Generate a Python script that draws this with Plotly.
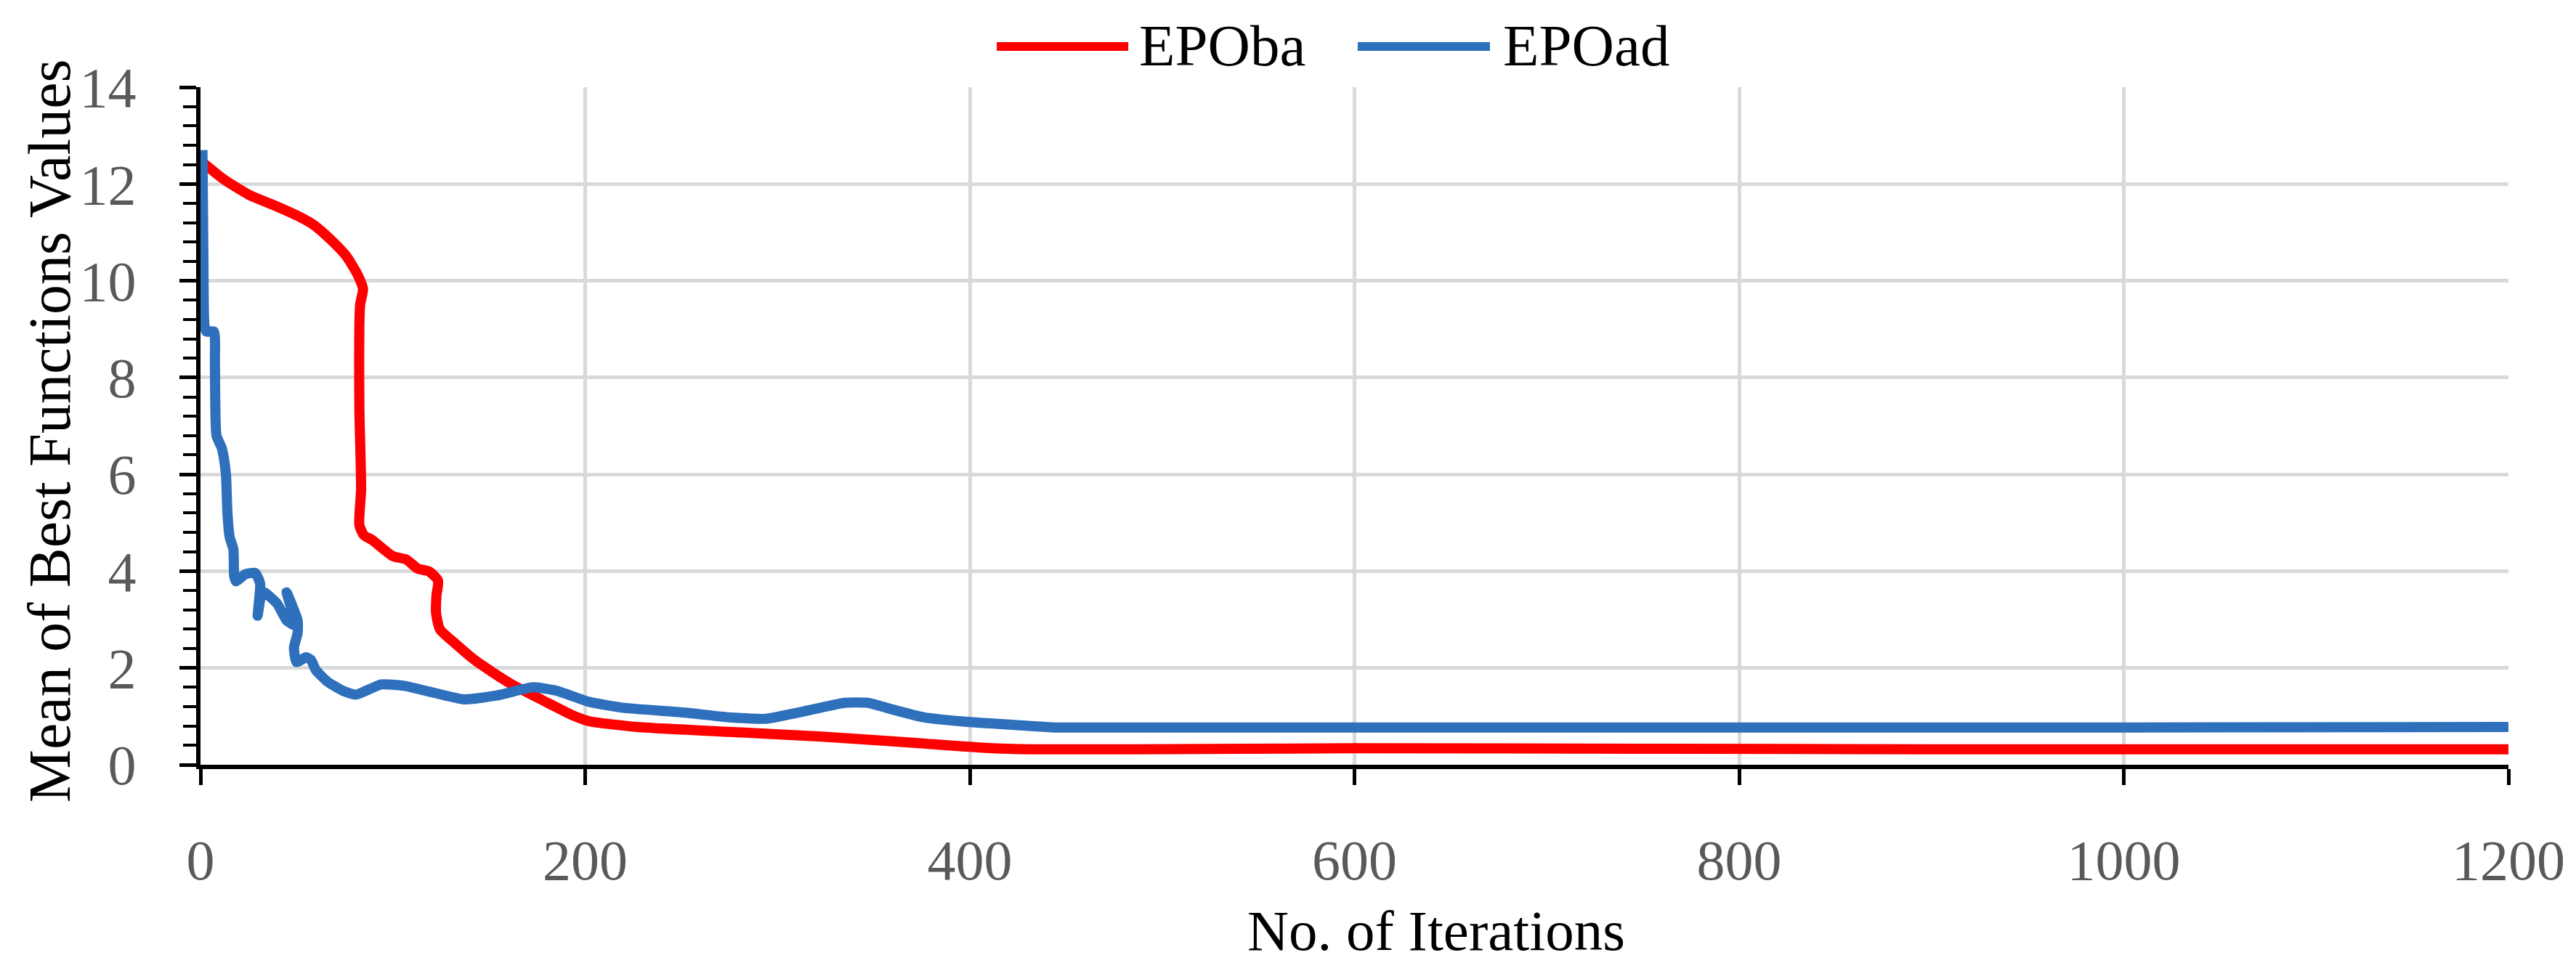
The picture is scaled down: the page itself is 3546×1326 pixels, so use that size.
import plotly.graph_objects as go

# ---- data ----
epoba_x = [1, 12, 25, 37, 50, 59, 69, 76, 82, 84.5, 83, 82.6, 83.5, 82.6, 85, 89, 100, 107, 113, 119,
           123.5, 122.7, 122.5, 124.5, 132, 143, 161, 178, 193, 202, 227, 275, 323, 372, 408, 432,
           484, 600, 750, 900, 1050, 1200]
epoba_y = [12.45, 12.1, 11.78, 11.58, 11.35, 11.15, 10.8, 10.5, 10.1, 9.83, 9.5, 7.4, 5.7, 4.95, 4.74,
           4.65, 4.31, 4.24, 4.05, 3.99, 3.8, 3.5, 3.13, 2.8, 2.52, 2.15, 1.68, 1.33, 1.03, 0.9, 0.78,
           0.68, 0.58, 0.45, 0.35, 0.32, 0.32, 0.34, 0.33, 0.32, 0.32, 0.32]

epoad_x = [1, 1.5, 2, 3, 7, 7.5, 8.3, 11, 12.3, 13.3, 14, 15.2, 17.1, 17.5, 18.4, 23.4, 28.5, 31, 29.7,
           32.2, 39.8, 44.8, 49.2, 44.8, 50.5, 50.5, 48.6, 49.9, 54.9, 57.4, 59.9, 66.2, 75, 81, 94,
           106, 119, 137, 154, 173, 185, 202, 219, 251, 275, 294, 311, 335, 347, 359, 376, 400, 432,
           444, 484, 600, 800, 1000, 1200]
epoad_y = [12.7, 10.5, 9.1, 8.95, 8.95, 8.3, 6.8, 6.55, 6.3, 5.96, 5.2, 4.7, 4.45, 3.9, 3.79, 3.94,
           3.96, 3.74, 3.08, 3.58, 3.33, 2.98, 2.88, 3.56, 2.98, 2.72, 2.42, 2.12, 2.22, 2.17, 1.96,
           1.71, 1.51, 1.45, 1.66, 1.63, 1.51, 1.35, 1.43, 1.6, 1.53, 1.3, 1.18, 1.08, 0.98, 0.95,
           1.08, 1.28, 1.28, 1.15, 0.98, 0.88, 0.8, 0.77, 0.77, 0.77, 0.77, 0.77, 0.78]

series_names = ["EPOba", "EPOad"]
series_colors = ["#FF0000", "#2E70BC"]
x_tick_vals = [0, 200, 400, 600, 800, 1000, 1200]
y_tick_vals = [0, 2, 4, 6, 8, 10, 12, 14]

x_title = "No. of Iterations"
y_title = "Mean of Best Functions Values"

FONT = "Liberation Serif, Times New Roman, serif"
LW = 14

fig = go.Figure()
fig.add_trace(go.Scatter(x=epoba_x, y=epoba_y, mode="lines", name=series_names[0],
                         line=dict(color=series_colors[0], width=LW, shape="spline", smoothing=0.6)))
fig.add_trace(go.Scatter(x=epoad_x, y=epoad_y, mode="lines", name=series_names[1],
                         line=dict(color=series_colors[1], width=LW, shape="spline", smoothing=0.5)))

fig.update_layout(
    width=3546, height=1326,
    margin=dict(l=268, r=101, t=112, b=281),
    paper_bgcolor="white", plot_bgcolor="white",
    showlegend=False,
    font=dict(family=FONT, color="black"),
)

fig.update_xaxes(
    range=[0, 1200], tickvals=x_tick_vals, ticktext=[str(v) for v in x_tick_vals],
    showgrid=True, gridcolor="#D9D9D9", gridwidth=5,
    showline=True, linecolor="black", linewidth=6,
    ticks="outside", ticklen=22, tickwidth=5, tickcolor="black",
    tickfont=dict(family=FONT, size=78, color="#595959"),
    ticklabelstandoff=36, zeroline=False, layer="below traces",
)
fig.update_yaxes(
    range=[0, 14], tickvals=y_tick_vals, ticktext=[str(v) for v in y_tick_vals],
    showgrid=True, gridcolor="#D9D9D9", gridwidth=5,
    showline=True, linecolor="black", linewidth=6,
    ticks="outside", ticklen=23, tickwidth=5, tickcolor="black",
    minor=dict(dtick=0.4, tick0=0, ticks="outside", ticklen=18, tickwidth=4,
               tickcolor="black", showgrid=False),
    tickfont=dict(family=FONT, size=78, color="#595959"),
    ticklabelstandoff=44, zeroline=False, layer="below traces",
)

# axis titles (x title sits right of centre in the reference)
fig.add_annotation(text=x_title, xref="paper", yref="paper", x=0.5354, y=-0.2444,
                   xanchor="center", yanchor="middle", showarrow=False,
                   font=dict(family=FONT, size=79, color="black"))
fig.add_annotation(text=y_title, xref="paper", yref="paper", x=-0.0655, y=0.493,
                   xanchor="center", yanchor="middle", showarrow=False, textangle=-90,
                   font=dict(family=FONT, size=82, color="black"))

# legend drawn above the plot, long line samples as in the reference
legend_items = [
    (series_names[0], series_colors[0], 0.345, 0.402, 0.406),
    (series_names[1], series_colors[1], 0.5014, 0.5587, 0.5637),
]
for name, color, x0, x1, xt in legend_items:
    fig.add_shape(type="line", xref="paper", yref="paper", x0=x0, x1=x1, y0=1.060, y1=1.060,
                  line=dict(color=color, width=12))
    fig.add_annotation(text=name, xref="paper", yref="paper", x=xt, y=1.0616,
                       xanchor="left", yanchor="middle", showarrow=False,
                       font=dict(family=FONT, size=81, color="black"))

fig.write_html("out.html", config={"displayModeBar": False})
